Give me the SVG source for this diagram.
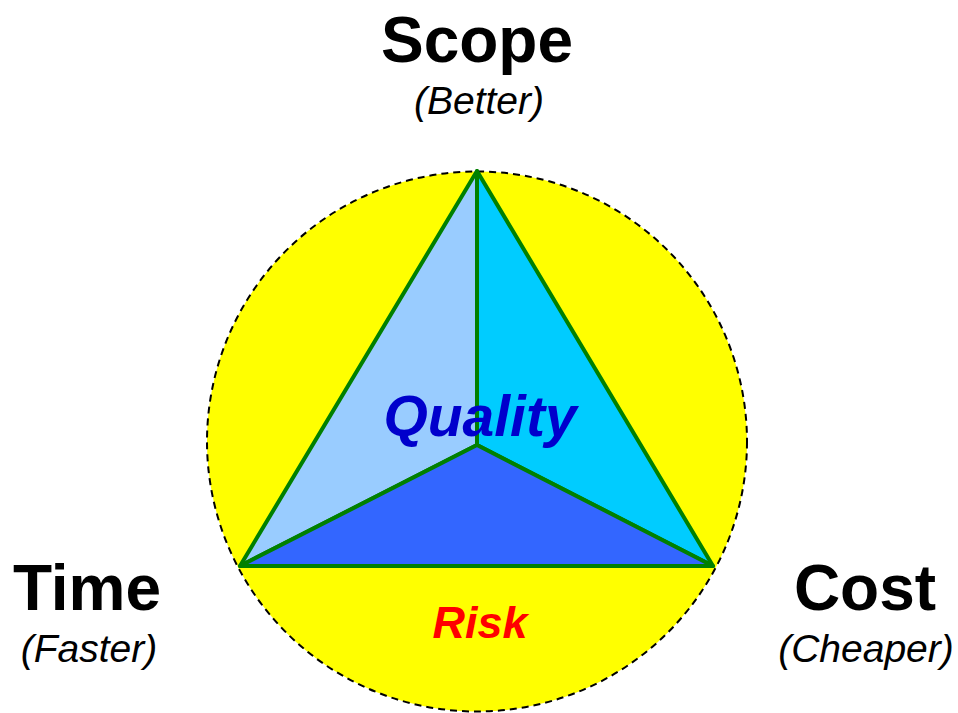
<svg xmlns="http://www.w3.org/2000/svg" width="958" height="713" viewBox="0 0 958 713">
<style>
.lbl{font-family:"Liberation Sans",Arial,sans-serif;font-weight:bold;font-size:64px;fill:#000;text-anchor:middle}
.sub{font-family:"Liberation Sans",Arial,sans-serif;font-style:italic;font-size:39px;fill:#000;text-anchor:middle}
.tri{stroke:#008000;stroke-width:4;stroke-linejoin:round}
.bi{font-family:"Liberation Sans",Arial,sans-serif;font-weight:bold;font-style:italic;text-anchor:middle}
</style>
<rect width="958" height="713" fill="#fff"/>
<g id="risk-circle">
<circle cx="477" cy="441.5" r="270" fill="#FFFF00" stroke="#000" stroke-width="2" stroke-dasharray="7,5"/>
<text class="bi" x="480" y="638" font-size="45" fill="#FF0000">Risk</text>
</g>
<g id="triangle">
<polygon class="tri" points="477,171 240,566 477,445" fill="#99CCFF"/>
<polygon class="tri" points="477,171 477,445 713,566" fill="#00CCFF"/>
<polygon class="tri" points="240,566 477,445 713,566" fill="#3366FF"/>
</g>
<g id="connectors">
<line x1="477" y1="171" x2="477" y2="445" stroke="#008000" stroke-width="4"/>
</g>
<g id="quality">
<text class="bi" x="480" y="436" font-size="57" fill="#0000CC">Quality</text>
</g>
<g id="scope">
<text class="lbl" x="477" y="62">Scope</text>
<text class="sub" x="479" y="114">(Better)</text>
</g>
<g id="time">
<text class="lbl" x="87" y="610">Time</text>
<text class="sub" x="89" y="662">(Faster)</text>
</g>
<g id="cost">
<text class="lbl" x="865" y="610">Cost</text>
<text class="sub" x="866" y="662">(Cheaper)</text>
</g>
</svg>
